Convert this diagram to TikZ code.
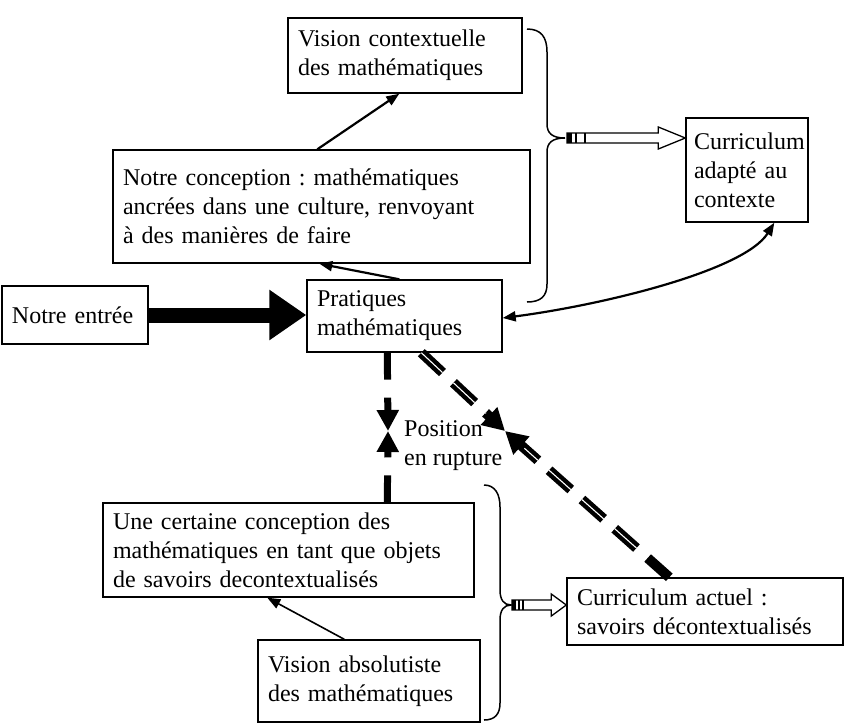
\documentclass[tikz,border=0pt]{standalone}
\usepackage{fontspec}
\setmainfont{Liberation Serif}
\usetikzlibrary{arrows.meta,calc}
\frenchspacing
\begin{document}
\begin{tikzpicture}[x=1pt,y=-1pt,
  txt/.style={font=\fontsize{24}{29}\selectfont},
  box/.style={txt, draw, line width=1.4pt, inner xsep=10pt, inner ysep=2pt, align=left},
  thinarrow/.style={line width=2.2pt, -{Triangle[length=13pt,width=10pt]}},
  dashvert/.style={line width=7pt, dash pattern=on 27pt off 18pt, -{Triangle[length=21pt,width=21pt]}},
  dashdiag/.style={line width=10pt, dash pattern=on 29pt off 15pt, -{Triangle[length=22pt,width=23pt]}},
  dashstripe/.style={white, line width=1.1pt, dash pattern=on 29pt off 15pt, shorten >=26pt},
  hollow/.style={line width=1.3pt, fill=white, line join=miter},
  bracket/.style={line width=1.5pt}
]
\useasboundingbox[fill=white] (0,0) rectangle (845,724);

% boxes
\node[box, minimum width=234pt, minimum height=75pt, text width=214pt] (vis) at (405,55.5)
  {Vision contextuelle\\des mathématiques};
\node[box, inner xsep=8pt, minimum width=122pt, minimum height=104pt, text width=106pt] (adapt) at (747,170)
  {Curriculum\\adapté au\\contexte};
\node[box, minimum width=417pt, minimum height=113pt, text width=397pt] (notre) at (321.5,206.5)
  {Notre conception : mathématiques\\ancrées dans une culture, renvoyant\\à des manières de faire};
\node[box, minimum width=195pt, minimum height=72pt, text width=175pt] (prat) at (404.5,316)
  {Pratiques\\mathématiques};
\node[box, minimum width=146pt, minimum height=58pt, text width=126pt] (entree) at (75,315)
  {Notre entrée};
\node[box, minimum width=371pt, minimum height=94pt, text width=351pt] (une) at (288.5,550)
  {Une certaine conception des\\mathématiques en tant que objets\\de savoirs decontextualisés};
\node[box, minimum width=222pt, minimum height=82pt, text width=202pt] (absol) at (369,681)
  {Vision absolutiste\\des mathématiques};
\node[box, minimum width=276pt, minimum height=67pt, text width=256pt] (actuel) at (705,611.5)
  {Curriculum actuel :\\savoirs décontextualisés};

\node[txt, align=left, anchor=west, inner sep=0pt] (pos) at (404,446) {Position\\en rupture};

% thin arrows between boxes
\draw[thinarrow] ($(notre.north west)+(205,0)$) -- ($(vis.south west)+(112,0)$);
\draw[thinarrow] ($(prat.north west)+(93,0)$) -- ($(notre.south west)+(207,0)$);
\draw[thinarrow, line width=1.6pt] ($(absol.north west)+(87,0)$) -- ($(une.south west)+(165,0)$);

% two-headed curve
\draw[line width=2.2pt, {Triangle[length=13pt,width=10pt]}-{Triangle[length=13pt,width=10pt]}]
  ($(prat.east)+(0,2)$) .. controls +(100,-13) and +(-30,48) .. ($(adapt.south west)+(89,0)$);

% heavy entry arrow
\draw[line width=15pt, -{Triangle[length=37pt,width=48pt]}] (entree.east) -- (entree.east -| prat.west);

% dashed opposing arrows
\coordinate (vmeet) at (388,431);
\draw[dashvert] ($(prat.south west)+(81,0)$) -- (vmeet);
\draw[dashvert] ($(une.north west)+(285,0)$) -- (vmeet);

\coordinate (dmeet) at (505,431);
\draw[dashdiag] ($(prat.south west)+(115,0)$) -- (dmeet);
\draw[dashstripe] ($(prat.south west)+(115,0)$) -- (dmeet);
\draw[dashdiag] ($(actuel.north west)+(103,0)$) -- (dmeet);
\draw[dashstripe, shorten <=44pt] ($(actuel.north west)+(103,0)$) -- (dmeet);

% braces
\draw[bracket] (527,29) .. controls (541,29) and (547,37) .. (547,52) -- (547,124)
  .. controls (547,133) and (552,138) .. (565,138)
  .. controls (552,138) and (547,143) .. (547,152) -- (547,284)
  .. controls (547,296) and (541,302) .. (527,302);
\draw[bracket] (484,485) .. controls (495,485) and (500,494) .. (500,507) -- (500,590)
  .. controls (500,600) and (504,605) .. (511,605)
  .. controls (504,605) and (500,610) .. (500,620) -- (500,703)
  .. controls (500,714) and (495,720) .. (484,720);

% hollow striped arrows leaving the braces
\coordinate (bt1) at (565,138);
\coordinate (t1) at (bt1 -| adapt.west);
\draw[hollow] ($(bt1)+(2,-5)$) -- ($(t1)+(-27,-5)$) -- ($(t1)+(-27,-11)$) -- (t1)
  -- ($(t1)+(-27,11)$) -- ($(t1)+(-27,5)$) -- ($(bt1)+(2,5)$) -- cycle;
\fill ($(bt1)+(2,-5)$) rectangle ($(bt1)+(7,5)$);
\draw[line width=1.2pt] ($(bt1)+(11,-5)$) -- ($(bt1)+(11,5)$);
\draw[line width=1.2pt] ($(bt1)+(20,-5)$) -- ($(bt1)+(20,5)$);

\coordinate (bt2) at (511,605);
\coordinate (t2) at (bt2 -| actuel.west);
\draw[hollow] ($(bt2)+(1,-5)$) -- ($(t2)+(-15,-5)$) -- ($(t2)+(-15,-11)$) -- (t2)
  -- ($(t2)+(-15,11)$) -- ($(t2)+(-15,5)$) -- ($(bt2)+(1,5)$) -- cycle;
\fill ($(bt2)+(1,-5)$) rectangle ($(bt2)+(5,5)$);
\draw[line width=1.2pt] ($(bt2)+(8,-5)$) -- ($(bt2)+(8,5)$);
\draw[line width=1.2pt] ($(bt2)+(12,-5)$) -- ($(bt2)+(12,5)$);
\end{tikzpicture}
\end{document}
